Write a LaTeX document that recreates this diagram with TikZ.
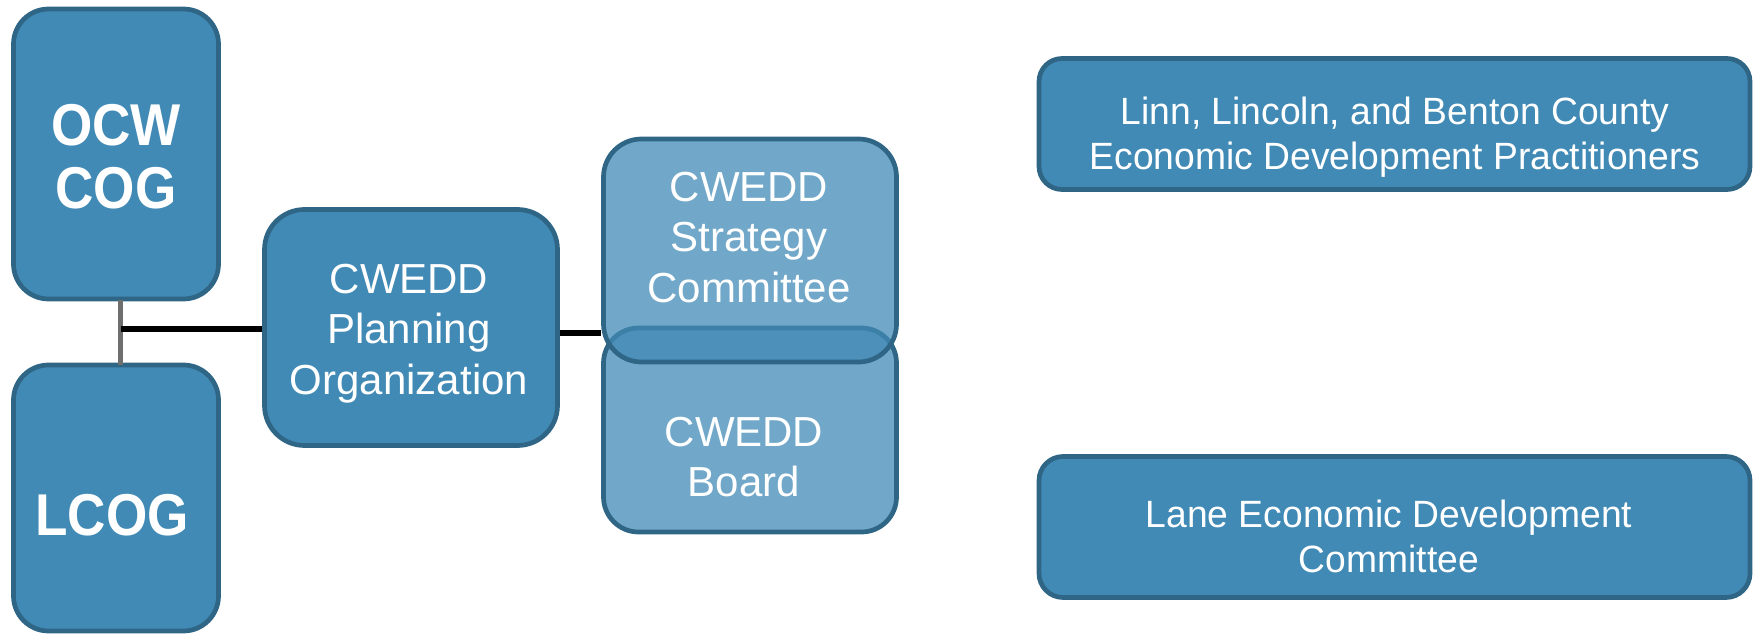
\documentclass[tikz,border=0pt]{standalone}
\usepackage{fontspec}
\setmainfont{Liberation Sans}
\newfontfamily\narrowbold{Liberation Sans}[FakeStretch=0.9]
\newfontfamily\narrowreg{Liberation Sans}[FakeStretch=0.98]
\definecolor{boxfill}{HTML}{418AB5}
\definecolor{boxline}{HTML}{2F6585}
\definecolor{linkgray}{HTML}{6E6E6E}
\newcommand{\mlines}[1]{\begin{tabular}[t]{@{}c@{}}#1\end{tabular}}
\tikzset{
  orgbox/.style={draw=boxline, line width=4.7pt, fill=boxfill, rectangle, inner sep=0pt},
  softbox/.style={orgbox, fill opacity=0.75},
  bigtext/.style={text=white, anchor=base, inner sep=0pt, font=\narrowbold\bfseries\fontsize{59}{63}\selectfont},
  midtext/.style={text=white, anchor=base, inner sep=0pt, font=\fontsize{42}{50.5}\selectfont},
  smalltext/.style={text=white, anchor=base, inner sep=0pt, font=\narrowreg\fontsize{38}{45}\selectfont},
  blackline/.style={draw=black, line width=5.5pt},
  grayline/.style={draw=linkgray, line width=5pt}
}
\begin{document}
\begin{tikzpicture}[x=1pt,y=-1pt]
\useasboundingbox (0,0) rectangle (1758,636);

\node[orgbox, rounded corners=35pt, minimum width=205pt, minimum height=290pt] (ocw) at (116,154) {};
\node[orgbox, rounded corners=35pt, minimum width=205pt, minimum height=266pt] (lcog) at (116,498) {};
\coordinate (ocwlink) at (120.5,300);
\coordinate (lcoglink) at (120.5,365);
\coordinate (junction) at (120.5,329);
\draw[grayline] (ocwlink) -- (lcoglink);

\node[orgbox, rounded corners=40pt, minimum width=293pt, minimum height=236pt] (plan) at (411,327.5) {};
\node[softbox, rounded corners=35pt, minimum width=293pt, minimum height=204pt] (board) at (750,430) {};
\node[softbox, rounded corners=38pt, minimum width=293pt, minimum height=223pt] (strat) at (750,250.5) {};

\draw[blackline] (junction) -- (junction -| plan.west);
\coordinate (planout) at (plan.east |- 0,333);
\draw[blackline] (planout) -- (planout -| strat.west);

\node[orgbox, rounded corners=23pt, minimum width=711pt, minimum height=131pt] (linn) at (1394.5,124) {};
\node[orgbox, rounded corners=24pt, minimum width=711pt, minimum height=141pt] (lane) at (1394.5,527) {};

\node[bigtext] (ocwtext) at (116,146) {\mlines{OCW\\COG}};
\node[bigtext] (lcogtext) at (112,535) {LCOG};
\node[midtext] (plantext) at (409,293.5) {\mlines{CWEDD\\Planning\\Organization}};
\node[midtext] (strattext) at (749,201.5) {\mlines{CWEDD\\Strategy\\Committee}};
\node[midtext] (boardtext) at (744,446) {\mlines{CWEDD\\Board}};
\node[smalltext] (linntext) at (1395,124.5) {\mlines{Linn, Lincoln, and Benton County\\Economic Development Practitioners}};
\node[smalltext] (lanetext) at (1389,527) {\mlines{Lane Economic Development\\Committee}};
\end{tikzpicture}
\end{document}
